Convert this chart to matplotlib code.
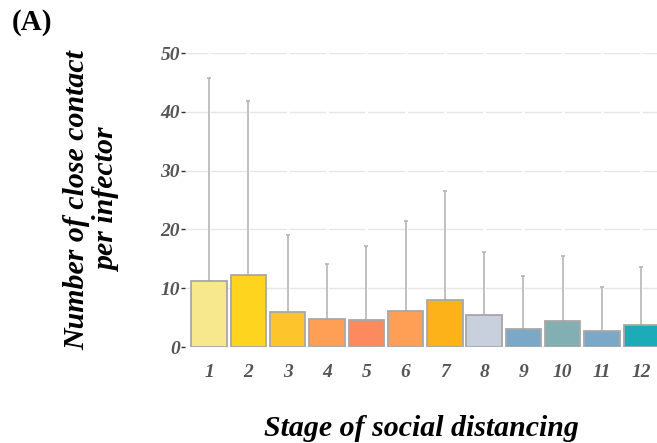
import matplotlib.pyplot as plt
import numpy as np

# Data
stages = ['1', '2', '3', '4', '5', '6', '7', '8', '9', '10', '11', '12']
mean_contacts = [11.2, 12.2, 5.9, 4.8, 4.6, 6.2, 8.0, 5.4, 3.1, 4.4, 2.7, 3.7]
upper_whisker = [45.7, 41.8, 19.0, 14.2, 17.2, 21.4, 26.5, 16.2, 12.0, 15.4, 10.2, 13.6]
bar_colors = ['#F7E88E', '#FED41E', '#FEC42C', '#FE9F55', '#FD8A5F', '#FE9F55',
              '#FDB21A', '#C7D0DC', '#7BA8C6', '#82AFB2', '#7BA8C6', '#1BACB8']

serif = ['Liberation Serif', 'DejaVu Serif']
tick_color = '#555555'

fig = plt.figure(figsize=(6.57, 4.43), dpi=100)
# panel runs past the right edge, as in the cropped reference
ax = fig.add_axes([185.4 / 657, 1 - 347 / 443, (665 - 185.4) / 657, (347 - 53) / 443])

x = np.arange(1, len(stages) + 1)
err_low = np.zeros(len(stages))
err_high = np.array(upper_whisker) - np.array(mean_contacts)

ax.errorbar(x, mean_contacts, yerr=[err_low, err_high], fmt='none',
            ecolor='#b5b5b5', elinewidth=1.2, capsize=1.5, capthick=1.2, zorder=1)
ax.bar(x, mean_contacts, width=0.9, color=bar_colors, edgecolor='#a8a8a8',
       linewidth=1.3, zorder=2)

# grid: light horizontal lines broken by white verticals at each stage
for yv in range(0, 51, 10):
    ax.axhline(yv, color='#e6e6e6', linewidth=1.0, zorder=0)
for xv in x:
    ax.axvline(xv, color='white', linewidth=2.0, zorder=0.5)

ax.set_xlim(0.4, 12.6)
ax.set_ylim(0, 50)
ax.set_yticks(range(0, 51, 10))
ax.set_xticks(x)
ax.set_xticklabels(stages)
for s in ax.spines.values():
    s.set_visible(False)

ax.tick_params(axis='y', length=3, width=1, color='#333333', pad=1)
ax.tick_params(axis='x', length=0, pad=12)
for lab in ax.get_xticklabels() + ax.get_yticklabels():
    lab.set_family(serif)
    lab.set_fontstyle('italic')
    lab.set_fontweight('bold')
    lab.set_fontsize(14)
    lab.set_color(tick_color)

fig.text(421 / 657, 1 - 428 / 443, 'Stage of social distancing', ha='center', va='center',
         family=serif, style='italic', weight='bold', fontsize=21.5, color='black')
fig.text(92 / 657, 1 - 200 / 443, 'Number of close contact\nper infector', ha='center',
         va='center', rotation=90, family=serif, style='italic', weight='bold',
         fontsize=21.5, color='black', linespacing=1.2)
fig.text(12 / 657, 1 - 22 / 443, '(A)', ha='left', va='center', family=serif,
         weight='bold', fontsize=21, color='black')

fig.savefig('out.png', dpi=100)
